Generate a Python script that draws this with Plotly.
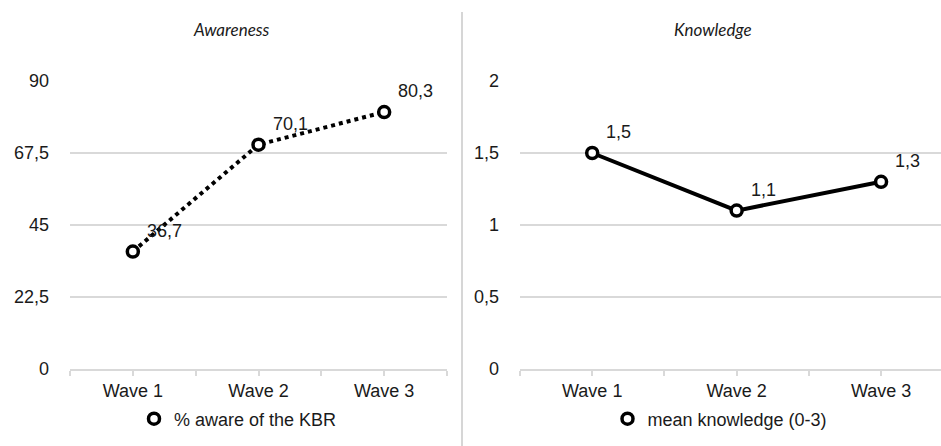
import plotly.graph_objects as go

waves = ["Wave 1", "Wave 2", "Wave 3"]
awareness = [36.7, 70.1, 80.3]
knowledge = [1.5, 1.1, 1.3]
awareness_labels = ["36,7", "70,1", "80,3"]
knowledge_labels = ["1,5", "1,1", "1,3"]
awareness_ticks = [0, 22.5, 45, 67.5, 90]
awareness_ticktext = ["0", "22,5", "45", "67,5", "90"]
knowledge_ticks = [0, 0.5, 1, 1.5, 2]
knowledge_ticktext = ["0", "0,5", "1", "1,5", "2"]

W, H = 941, 446
TXT = "#1a1a1a"
GRID = "#d9d9d9"
FONT = "Liberation Sans, Arial, sans-serif"

xpos = list(range(len(waves)))
# ticks at category centres and boundaries, labels only at centres
xtickvals = [i / 2 - 0.5 for i in range(2 * len(waves) + 1)]
xticktext = [waves[int(v)] if v == int(v) else "" for v in xtickvals]

fig = go.Figure()

marker = dict(symbol="circle", size=11, color="white", line=dict(color="black", width=3.5))

fig.add_trace(go.Scatter(x=xpos, y=awareness, mode="lines", xaxis="x", yaxis="y",
                         line=dict(color="black", width=4, dash="dot"), showlegend=False))
fig.add_trace(go.Scatter(x=xpos, y=awareness, mode="markers", xaxis="x", yaxis="y",
                         marker=marker, name="% aware of the KBR", legend="legend", cliponaxis=False))
fig.add_trace(go.Scatter(x=xpos, y=knowledge, mode="lines", xaxis="x2", yaxis="y2",
                         line=dict(color="black", width=4), showlegend=False))
fig.add_trace(go.Scatter(x=xpos, y=knowledge, mode="markers", xaxis="x2", yaxis="y2",
                         marker=marker, name="mean knowledge (0-3)", legend="legend2", cliponaxis=False))

anns = []
for xs, ys, labs, ax in [(xpos, awareness, awareness_labels, "x"),
                         (xpos, knowledge, knowledge_labels, "x2")]:
    ya = "y" if ax == "x" else "y2"
    for xv, yv, t in zip(xs, ys, labs):
        anns.append(dict(x=xv, y=yv, xref=ax, yref=ya, text=t, showarrow=False,
                         xanchor="left", yanchor="middle", xshift=12, yshift=21,
                         font=dict(family=FONT, size=18, color=TXT)))

for txt, xc in [("Awareness", 231), ("Knowledge", 713)]:
    anns.append(dict(x=xc / W, y=1 - 30 / H, xref="paper", yref="paper", text="<i>%s</i>" % txt,
                     showarrow=False, xanchor="center", yanchor="middle",
                     font=dict(family="Lato, Open Sans, sans-serif", size=17, color=TXT)))

fig.update_layout(annotations=anns)

ydom = [(H - 369) / H, (H - 81) / H]
xaxis_common = dict(tickmode="array", tickvals=xtickvals, ticktext=xticktext,
                    ticks="outside", ticklen=5, tickcolor=GRID, tickwidth=1.5,
                    showline=True, linecolor=GRID, linewidth=1.5, showgrid=False,
                    zeroline=False, automargin=False,
                    tickfont=dict(family=FONT, size=18, color=TXT))
yaxis_common = dict(tickmode="array", showgrid=True, gridcolor=GRID, gridwidth=1.5,
                    zeroline=False, ticks="", ticklabelstandoff=20, domain=ydom,
                    automargin=False, tickfont=dict(family=FONT, size=18, color=TXT))

leg_font = dict(family=FONT, size=18, color=TXT)
fig.update_layout(
    width=W, height=H,
    margin=dict(l=0, r=0, t=0, b=0),
    plot_bgcolor="white", paper_bgcolor="white",
    xaxis=dict(xaxis_common, domain=[70 / W, 447 / W], range=[-0.5, 2.5], anchor="y"),
    yaxis=dict(yaxis_common, range=[0, 90], tickvals=awareness_ticks,
               ticktext=awareness_ticktext, anchor="x"),
    xaxis2=dict(xaxis_common, domain=[520 / W, 1], range=[-0.5, 2.415], anchor="y2"),
    yaxis2=dict(yaxis_common, range=[0, 2], tickvals=knowledge_ticks,
                ticktext=knowledge_ticktext, anchor="x2"),
    legend=dict(orientation="h", x=238 / W, y=(H - 419) / H, xanchor="center", yanchor="middle",
                font=leg_font, bgcolor="rgba(0,0,0,0)"),
    legend2=dict(orientation="h", x=720 / W, y=(H - 419) / H, xanchor="center", yanchor="middle",
                 font=leg_font, bgcolor="rgba(0,0,0,0)"),
    shapes=[dict(type="line", xref="paper", yref="paper", x0=462 / W, x1=462 / W,
                 y0=0, y1=(H - 12) / H, line=dict(color="#c8c8c8", width=1.5))],
)

fig.write_html("out.html", config={"displayModeBar": False},
               post_script="document.body.style.margin = '0';")
